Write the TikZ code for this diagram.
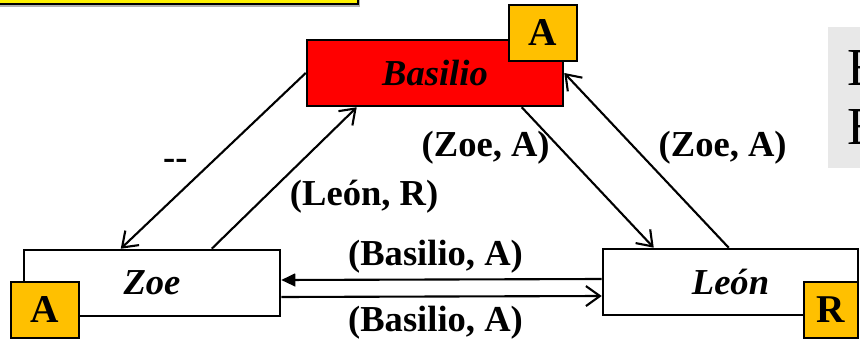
\documentclass[tikz,border=0pt]{standalone}
\usepackage{fontspec}
\setmainfont{Liberation Serif}
\usetikzlibrary{arrows.meta}
\definecolor{badgeorange}{RGB}{255,192,0}
\definecolor{panelgray}{RGB}{232,232,232}

\begin{document}
\begin{tikzpicture}[
  every node/.style={font=\fontsize{26}{30}\selectfont\bfseries},
  agent/.style={draw, rectangle, line width=1.8pt, minimum width=6.4cm, minimum height=1.65cm, font=\fontsize{26}{30}\selectfont\bfseries\itshape},
  badge/.style={draw, rectangle, line width=1.8pt, fill=badgeorange, minimum width=1.7cm, minimum height=1.4cm, font=\fontsize{28}{32}\selectfont\bfseries},
  msg/.style={line width=1.5pt, -{Straight Barb[length=3.5mm, width=5mm, line width=1.5pt]}},
  reply/.style={line width=1.5pt, -{Triangle[length=3.5mm, width=3.2mm]}}
]
\useasboundingbox (0,0) rectangle (21.5,8.625);

% Title bar (cut off at the top)
\fill[gray!60] (-0.04,8.46) rectangle (9.0,8.9);
\draw[line width=1.5pt, fill=yellow] (-0.1,8.53) rectangle (8.95,8.9);

% Side panel
\fill[panelgray] (20.7,4.425) rectangle (21.7,7.95);
\node[anchor=base west, inner sep=0pt, font=\fontsize{38}{40}\selectfont] (rowa) at (21.18,6.475) {E};
\node[anchor=base west, inner sep=0pt, font=\fontsize{38}{40}\selectfont] (rowb) at (21.18,5.0) {E};

% Agents
\node[agent, fill=red] (basilio) at (10.875,6.8) {Basilio};
\node[agent, fill=white] (zoe) at (3.8,1.55) {Zoe};
\node[agent, fill=white, minimum width=6.375cm] (leon) at (18.2625,1.575) {León};

% States
\node[badge] (basilioA) at (13.575,7.8) {A};
\node[badge] (zoeA) at (1.125,0.875) {A};
\node[badge, minimum width=1.35cm] (leonR) at (20.775,0.875) {R};

% Basilio <-> Zoe
\draw[msg] (basilio.west) -- ([xshift=2.45cm]zoe.north west) node[midway, left=0.5cm, yshift=-0.1cm] {-{}-};
\draw[msg] ([xshift=4.725cm]zoe.north west) -- ([xshift=1.275cm]basilio.south west) node[midway, below right, yshift=0.1cm] {(León, R)};

% Basilio <-> León
\draw[msg] ([xshift=5.4cm]basilio.south west) -- ([xshift=1.3cm]leon.north west) node[pos=0.3, left=0.15cm, yshift=0.05cm] {(Zoe, A)};
\draw[msg] ([xshift=3.175cm]leon.north west) -- (basilio.east) node[pos=0.57, right=0.45cm] {(Zoe, A)};

% Zoe <-> León
\draw[reply] ([yshift=0.075cm]leon.west) -- ([yshift=0.075cm]zoe.east) node[midway, above, xshift=-0.15cm] {(Basilio, A)};
\draw[msg] ([yshift=-0.35cm]zoe.east) -- ([yshift=-0.35cm]leon.west) node[midway, below=0.1cm, xshift=-0.15cm] {(Basilio, A)};
\end{tikzpicture}
\end{document}
